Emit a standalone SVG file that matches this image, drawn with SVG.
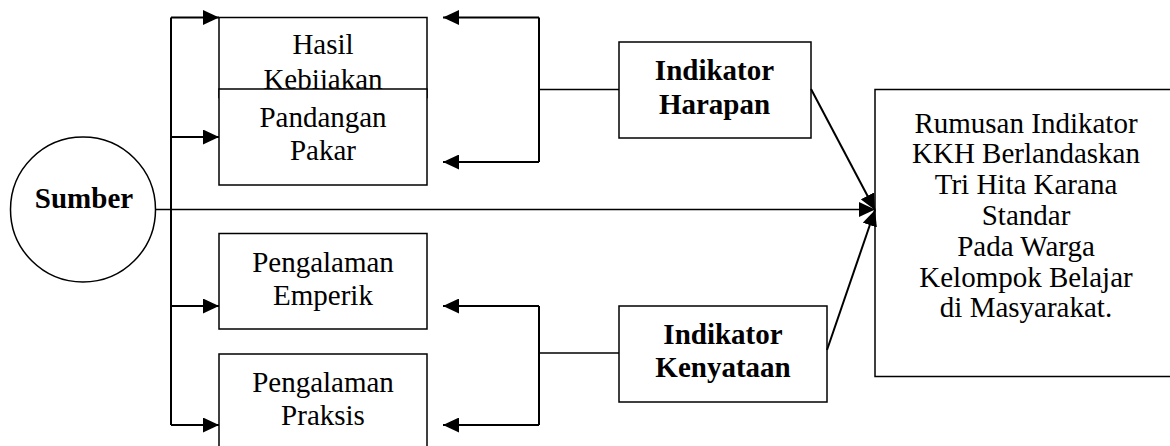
<svg xmlns="http://www.w3.org/2000/svg" width="1170" height="446" viewBox="0 0 1170 446">
<style>
.box{fill:#fff;stroke:#000;stroke-width:1.5}
.t{font-family:"Liberation Serif","Times New Roman",serif;font-size:29px;fill:#000;text-anchor:middle}
.b{font-weight:bold}
.c{fill:none;stroke:#000;stroke-width:2}
</style>
<defs>
<marker id="ah" markerUnits="userSpaceOnUse" markerWidth="16" markerHeight="15" refX="16" refY="7.5" orient="auto">
<path d="M0,0 L16,7.5 L0,15 z" fill="#000"/>
</marker>
</defs>
<rect width="1170" height="446" fill="#fff"/>
<g id="sumber">
<circle cx="83" cy="209.5" r="72.5" fill="#fff" stroke="#000" stroke-width="1.5"/>
<text class="t b" x="84" y="208">Sumber</text>
</g>
<g id="hasil">
<rect class="box" x="219" y="17.5" width="208" height="80"/>
<text class="t" x="323" y="54">Hasil</text>
<text class="t" x="323" y="88.5">Kebijakan</text>
</g>
<g id="pandangan">
<rect class="box" x="219" y="89" width="208" height="96"/>
<text class="t" x="323" y="127">Pandangan</text>
<text class="t" x="323" y="160">Pakar</text>
</g>
<g id="emperik">
<rect class="box" x="219" y="233.5" width="208" height="95.5"/>
<text class="t" x="323" y="272">Pengalaman</text>
<text class="t" x="323" y="305">Emperik</text>
</g>
<g id="praksis">
<rect class="box" x="219" y="354" width="208" height="110"/>
<text class="t" x="323" y="392">Pengalaman</text>
<text class="t" x="323" y="425">Praksis</text>
</g>
<g id="harapan">
<rect class="box" x="619" y="42" width="192" height="96"/>
<text class="t b" x="714.5" y="79.5">Indikator</text>
<text class="t b" x="714.5" y="113.5">Harapan</text>
</g>
<g id="kenyataan">
<rect class="box" x="619" y="306" width="208" height="96"/>
<text class="t b" x="723" y="343.5">Indikator</text>
<text class="t b" x="723" y="377">Kenyataan</text>
</g>
<g id="rumusan">
<rect class="box" x="875" y="89.5" width="310" height="287"/>
<text class="t" x="1026" y="132.5">Rumusan Indikator</text>
<text class="t" x="1026" y="163.3">KKH Berlandaskan</text>
<text class="t" x="1026" y="194.1">Tri Hita Karana</text>
<text class="t" x="1026" y="224.9">Standar</text>
<text class="t" x="1026" y="255.7">Pada Warga</text>
<text class="t" x="1026" y="286.5">Kelompok Belajar</text>
<text class="t" x="1026" y="317.3">di Masyarakat.</text>
</g>
<g id="connectors">
<path class="c" d="M171,17.5 V425"/>
<path class="c" d="M171,17.5 H219" marker-end="url(#ah)"/>
<path class="c" d="M171,137 H219" marker-end="url(#ah)"/>
<path class="c" d="M171,306 H219" marker-end="url(#ah)"/>
<path class="c" d="M171,425 H219" marker-end="url(#ah)"/>
<path class="c" d="M539,17.5 V162"/>
<path class="c" d="M539,17.5 H443" marker-end="url(#ah)"/>
<path class="c" d="M539,162 H443" marker-end="url(#ah)"/>
<path class="c" d="M539,89.5 H619" style="stroke-width:1.5"/>
<path class="c" d="M539,306 V425"/>
<path class="c" d="M539,306 H443" marker-end="url(#ah)"/>
<path class="c" d="M539,425 H443" marker-end="url(#ah)"/>
<path class="c" d="M539,353 H619" style="stroke-width:1.5"/>
<path class="c" d="M155.5,209.5 H875" style="stroke-width:1.5" marker-end="url(#ah)"/>
<path class="c" d="M811,89 L875,210" marker-end="url(#ah)"/>
<path class="c" d="M827,350 L875,210" marker-end="url(#ah)"/>
</g>
</svg>
